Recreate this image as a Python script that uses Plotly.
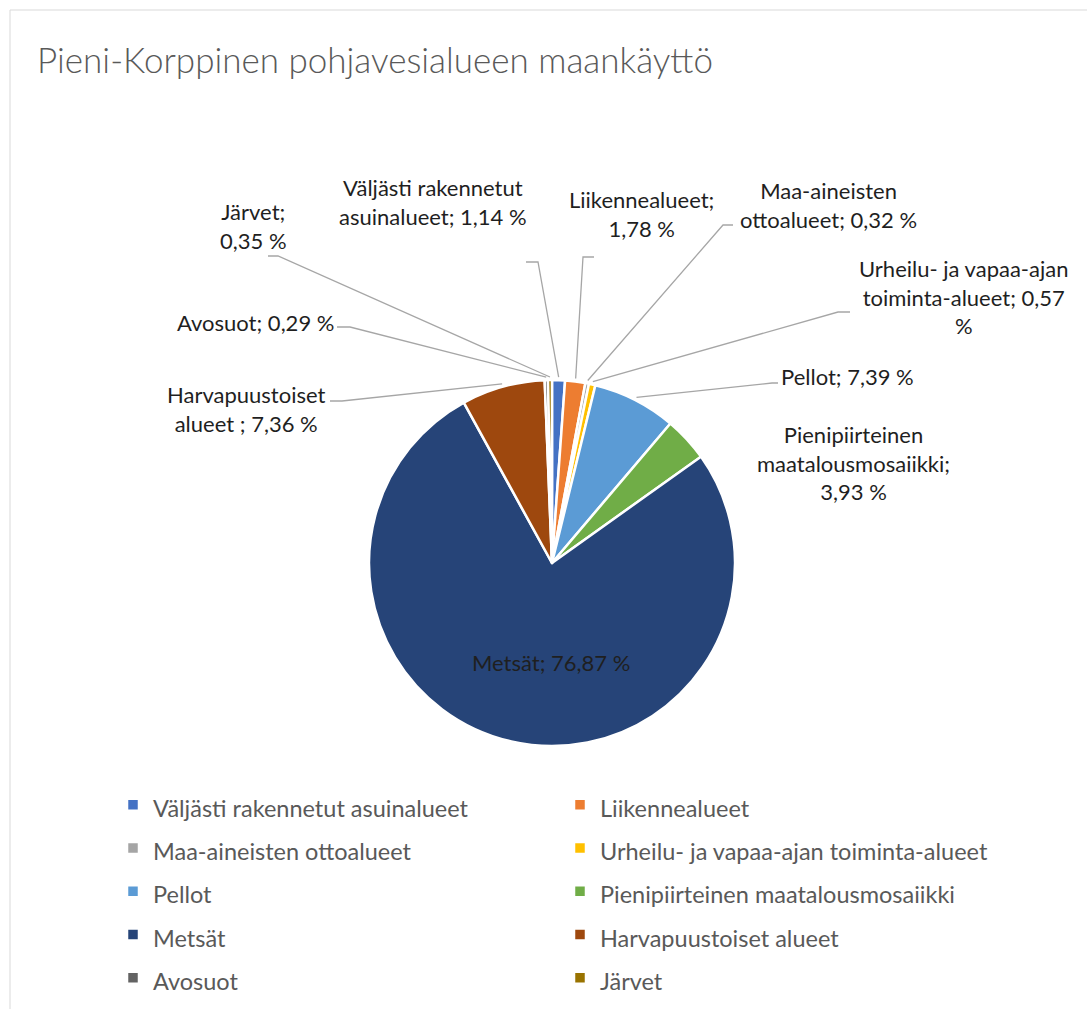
import plotly.graph_objects as go
import math

# ---- data ----
categories = [
    "Väljästi rakennetut asuinalueet",
    "Liikennealueet",
    "Maa-aineisten ottoalueet",
    "Urheilu- ja vapaa-ajan toiminta-alueet",
    "Pellot",
    "Pienipiirteinen maatalousmosaiikki",
    "Metsät",
    "Harvapuustoiset alueet",
    "Avosuot",
    "Järvet",
]
shares = [1.14, 1.78, 0.32, 0.57, 7.39, 3.93, 76.87, 7.36, 0.29, 0.35]
colors = ["#4472C4", "#ED7D31", "#A5A5A5", "#FFC000", "#5B9BD5",
          "#70AD47", "#264478", "#9E480E", "#636363", "#997300"]
# how each data label is broken into lines ({v} = value text)
label_formats = [
    "Väljästi rakennetut<br>asuinalueet; {v}",
    "Liikennealueet;<br>{v}",
    "Maa-aineisten<br>ottoalueet; {v}",
    "Urheilu- ja vapaa-ajan<br>toiminta-alueet; {v_num}<br>%",
    "Pellot; {v}",
    "Pienipiirteinen<br>maatalousmosaiikki;<br>{v}",
    "Metsät; {v}",
    "Harvapuustoiset<br>alueet ; {v}",
    "Avosuot; {v}",
    "Järvet;<br>{v}",
]
title_text = "Pieni-Korppinen pohjavesialueen maankäyttö"

# ---- layout constants (pixels) ----
W, H = 1087, 1009
CX, CY, R = 552, 563, 183
FONT = "Lato, 'Open Sans', sans-serif"

# label centre positions and leader stubs (start, elbow) in px; None = no leader
label_pos = [
    (433, 202), (641, 214), (828, 205), (963, 297), (847, 376),
    (853, 463), (551, 662), (246, 409), (255, 322), (253, 226),
]
leader_stub = [
    ((526, 262), (538, 262)),
    ((594, 257), (583, 257)),
    ((733, 225), (723, 225)),
    ((850, 312), (838, 312)),
    ((778, 383), (772, 383)),
    None, None,
    ((330, 401), (342, 401)),
    ((337, 327), (350, 327)),
    ((268, 256), (278, 256)),
]

def px(x):
    return x / W

def py(y):
    return 1 - y / H

fig = go.Figure()
fig.add_trace(go.Pie(
    labels=[f"<span style='font-size:23.5px'>{c}</span>" for c in categories],
    values=shares,
    sort=False,
    direction="clockwise",
    rotation=0,
    textinfo="none",
    hoverinfo="label+percent",
    marker=dict(colors=colors, line=dict(color="white", width=2.5)),
    domain=dict(x=[px(CX - R), px(CX + R)], y=[py(CY + R), py(CY - R)]),
))

annotations = []
shapes = []
total = sum(shares)
cum = 0.0
for i, (name, v) in enumerate(zip(categories, shares)):
    mid = (cum + v / 2) / total * 2 * math.pi
    cum += v
    vtxt = f"{v:.2f}".replace(".", ",")
    text = label_formats[i].format(v=vtxt + " %", v_num=vtxt)
    lx, ly = label_pos[i]
    annotations.append(dict(
        x=px(lx), y=py(ly), xref="paper", yref="paper", text=text,
        showarrow=False, xanchor="center", yanchor="middle", align="center",
        font=dict(family=FONT, size=22, color="#1f1f1f"),
    ))
    if leader_stub[i] is not None:
        (sx, sy), (ex, ey) = leader_stub[i]
        tx = CX + (R + 3) * math.sin(mid)
        ty = CY - (R + 3) * math.cos(mid)
        shapes.append(dict(
            type="path", xref="paper", yref="paper",
            path=f"M{px(sx)},{py(sy)} L{px(ex)},{py(ey)} L{px(tx)},{py(ty)}",
            line=dict(color="#A6A6A6", width=1.3),
        ))

# outer chart border
shapes.append(dict(type="rect", xref="paper", yref="paper",
                   x0=px(10), y0=-0.05, x1=1.05, y1=py(10),
                   line=dict(color="#D9D9D9", width=1), fillcolor="rgba(0,0,0,0)"))

annotations.append(dict(
    x=px(35), y=py(59), xref="paper", yref="paper", text=title_text,
    showarrow=False, xanchor="left", yanchor="middle",
    font=dict(family=FONT, size=35, color="#595959", weight=300),
))

fig.update_layout(
    width=W, height=H,
    margin=dict(l=0, r=0, t=0, b=0),
    paper_bgcolor="white", plot_bgcolor="white",
    font=dict(family=FONT),
    annotations=annotations,
    shapes=shapes,
    showlegend=True,
    legend=dict(
        orientation="h", x=px(113), y=py(778), xanchor="left", yanchor="top",
        font=dict(family=FONT, size=31, color="#595959"),
        entrywidth=402, entrywidthmode="pixels",
        bgcolor="rgba(0,0,0,0)",
    ),
)

fig.write_html("out.html", config={"displayModeBar": False},
               post_script="document.body.style.margin='0';document.body.style.overflow='hidden';")
